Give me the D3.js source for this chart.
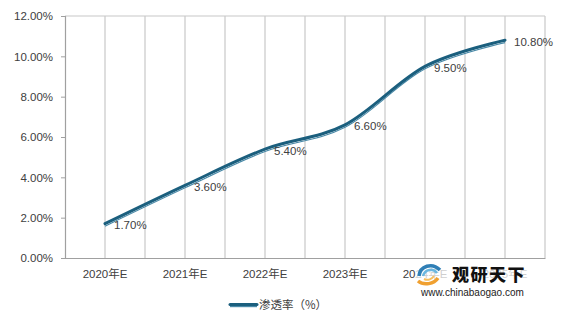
<!DOCTYPE html>
<html><head><meta charset="utf-8">
<script src="https://cdn.jsdelivr.net/npm/d3@7/dist/d3.min.js"></script>
<style>body{margin:0;background:#fff;}svg{display:block;}</style>
</head><body>
<svg id="c" width="570" height="326"></svg>
<script>
const categories = ["2020年E","2021年E","2022年E","2023年E","2024年E","2025年E"];
const values = [1.70, 3.60, 5.40, 6.60, 9.50, 10.80];
const yTicks = [0, 2, 4, 6, 8, 10, 12];
const seriesName = "渗透率（%）";

const svg = d3.select("#c");
const font = "'Liberation Sans', Arial, 'Noto Sans CJK SC', sans-serif";
const L = 65, R = 545, T = 16, B = 258;
const x = d3.scaleBand().domain(categories).range([L, R]);
const y = d3.scaleLinear().domain([0, 12]).range([B, T]);
const cx = d => x(d) + x.bandwidth() / 2;

// vertical gridlines: at band edges and centres
const gridX = [];
categories.forEach(c => { gridX.push(x(c)); gridX.push(cx(c)); });
gridX.push(R);
svg.append("g").selectAll("line").data(gridX.slice(1)).join("line")
  .attr("x1", d => d).attr("x2", d => d).attr("y1", T).attr("y2", B)
  .attr("stroke", "#c8c8c8").attr("stroke-width", 1.2);
// top border
svg.append("line").attr("x1", L).attr("x2", R).attr("y1", T).attr("y2", T)
  .attr("stroke", "#c8c8c8").attr("stroke-width", 1.2);

// y axis
const yAxis = d3.axisLeft(y).tickValues(yTicks).tickSize(4).tickPadding(8)
  .tickFormat(d => d3.format(".2f")(d) + "%");
const gy = svg.append("g").attr("transform", `translate(${L},0)`).call(yAxis);
gy.select(".domain").attr("stroke", "#a0a0a0").attr("stroke-width", 1.2);
gy.selectAll(".tick line").attr("stroke", "#a0a0a0");
gy.selectAll("text").attr("font-family", font).attr("font-size", 11.5).attr("fill", "#404040");

// x axis
const xAxis = d3.axisBottom(x).tickSize(0).tickPadding(12);
const gx = svg.append("g").attr("transform", `translate(0,${B})`).call(xAxis);
gx.select(".domain").attr("stroke", "#a0a0a0").attr("stroke-width", 1.2);
gx.selectAll("text").attr("font-family", font).attr("font-size", 11.5).attr("fill", "#404040");

// line
const line = d3.line().x((d, i) => cx(categories[i])).y(d => y(d)).curve(d3.curveCatmullRom.alpha(0));
svg.append("path").datum(values).attr("d", line).attr("fill", "none")
  .attr("stroke", "#4a8aa8").attr("stroke-width", 1.4).attr("transform", "translate(0,2.3)");
svg.append("path").datum(values).attr("d", line).attr("fill", "none")
  .attr("stroke", "#ffffff").attr("stroke-width", 1).attr("transform", "translate(0,1.3)");
svg.append("path").datum(values).attr("d", line).attr("fill", "none")
  .attr("stroke", "#1b5f7e").attr("stroke-width", 3).attr("stroke-linecap", "round");

// data labels
svg.append("g").selectAll("text").data(values).join("text")
  .attr("x", (d, i) => cx(categories[i]) + 9)
  .attr("y", d => y(d) + 1.5)
  .attr("dy", "0.35em")
  .attr("font-family", font).attr("font-size", 11.5).attr("fill", "#404040")
  .text(d => d3.format(".2f")(d) + "%");

// legend
svg.append("line").attr("x1", 230).attr("x2", 257).attr("y1", 306.5).attr("y2", 306.5)
  .attr("stroke", "#4a8aa8").attr("stroke-width", 1.4);
svg.append("line").attr("x1", 230).attr("x2", 257).attr("y1", 304.5).attr("y2", 304.5)
  .attr("stroke", "#1b5f7e").attr("stroke-width", 3).attr("stroke-linecap", "round");
svg.append("text").attr("x", 259).attr("y", 305).attr("dy", "0.35em")
  .attr("font-family", "'Noto Sans CJK SC', sans-serif").attr("font-size", 11.5).attr("fill", "#404040")
  .text(seriesName);

// watermark logo
const wm = svg.append("g");
wm.append("rect").attr("x", 416).attr("y", 263).attr("width", 116).attr("height", 22)
  .attr("fill", "#fff").attr("opacity", 0.75);
wm.append("path").attr("d", "M419,276 C420,266 432,262 440,270").attr("fill", "none")
  .attr("stroke", "#2f7fb6").attr("stroke-width", 3.5);
wm.append("path").attr("d", "M423,276 C425,269 433,268 437,273").attr("fill", "none")
  .attr("stroke", "#6bb7e0").attr("stroke-width", 2.5);
wm.append("path").attr("d", "M418,281 C424,286 434,284 438,278").attr("fill", "none")
  .attr("stroke", "#f0a030").attr("stroke-width", 3.5);
wm.append("path").attr("d", "M424,279 C428,281 432,279 434,276").attr("fill", "none")
  .attr("stroke", "#f7c060").attr("stroke-width", 2);
wm.append("text").attr("x", 452).attr("y", 275).attr("dy", "0.36em")
  .attr("font-family", "'Noto Sans CJK SC', sans-serif").attr("font-weight", "900")
  .attr("font-size", 17).attr("fill", "#111").attr("letter-spacing", 1.5).text("观研天下");
wm.append("text").attr("x", 421).attr("y", 292).attr("dy", "0.35em")
  .attr("font-family", "'Liberation Sans', Arial, sans-serif")
  .attr("font-size", 10).attr("fill", "#222").text("www.chinabaogao.com");
</script>
</body></html>
